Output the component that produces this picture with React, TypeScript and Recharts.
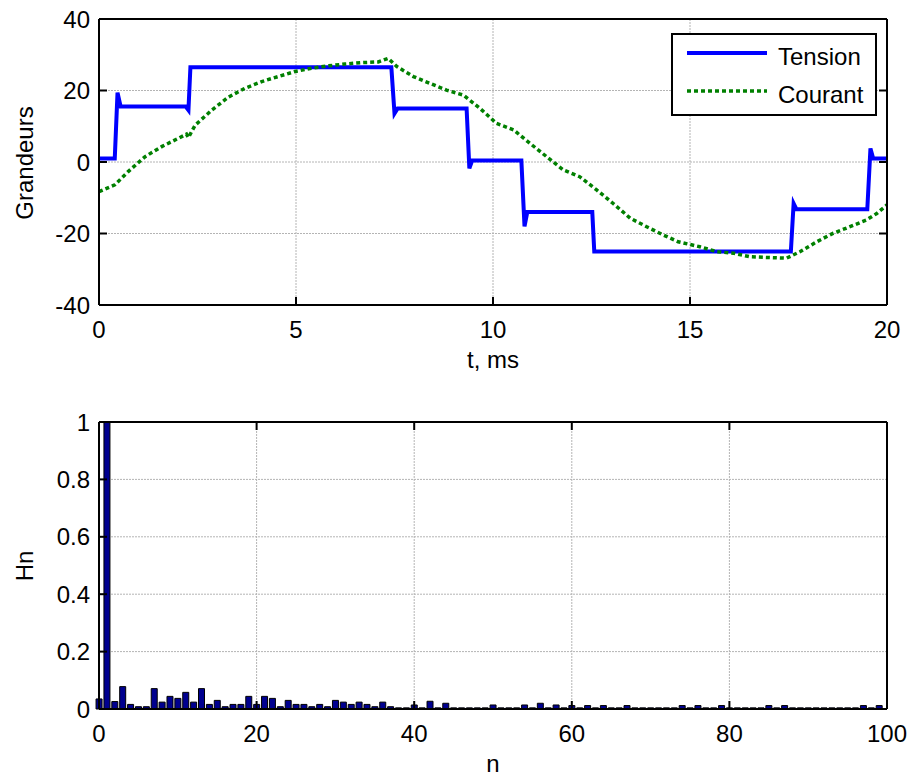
import React from "react";
import {
  Bar,
  BarChart,
  CartesianGrid,
  Legend,
  Line,
  LineChart,
  XAxis,
  YAxis,
} from "recharts";

// time axis (ms) and voltage steps
const tensionT = [0, 0.4, 0.47, 0.55, 2.2, 2.27, 2.32, 7.42, 7.5, 7.58, 9.33, 9.4, 9.47, 10.72, 10.8, 10.87, 12.52, 12.57, 17.56, 17.63, 17.7, 19.5, 19.58, 19.65, 20];
const tensionV = [1, 1, 19.4, 15.5, 15.5, 14.5, 26.5, 26.5, 13.6, 15, 15, -1.8, 0.4, 0.4, -18, -14, -14, -25, -25, -11.6, -13.2, -13.2, 3.8, 1, 1];

const courantT = [0, 0.4, 0.74, 1.17, 1.59, 2.01, 2.22, 2.27, 2.35, 2.44, 2.86, 3.28, 3.7, 4.13, 4.55, 4.97, 5.39, 5.82, 6.24, 6.67, 7.09, 7.34, 7.56, 7.98, 8.4, 8.82, 9.25, 9.67, 10.09, 10.52, 10.94, 11.36, 11.78, 12.2, 12.63, 13.05, 13.48, 13.9, 14.32, 14.7, 15.25, 15.68, 16.1, 16.52, 16.95, 17.45, 17.79, 18.22, 18.64, 19.06, 19.48, 19.74, 20];
const courantV = [-8.3, -6.4, -2.7, 1.5, 4.3, 6.6, 7.8, 6.8, 8.5, 10.3, 14.5, 18.1, 20.6, 22.5, 23.9, 25.3, 26.2, 26.9, 27.4, 27.8, 28.0, 29.0, 26.7, 23.9, 22.0, 20.1, 18.7, 15.0, 10.8, 9.0, 5.2, 1.5, -2.2, -4.1, -7.8, -11.6, -15.7, -18.1, -20.4, -22.3, -23.7, -25.1, -25.5, -26.5, -26.7, -26.9, -25.1, -22.3, -19.9, -18.1, -16.2, -14.4, -12.0];

// harmonic spectrum, n = 0..99
const hn = [
  0.035, 1.0, 0.026, 0.078, 0.016, 0.008, 0.008, 0.071, 0.024, 0.044,
  0.037, 0.058, 0.024, 0.071, 0.016, 0.03, 0.008, 0.016, 0.016, 0.044,
  0.016, 0.044, 0.037, 0.008, 0.03, 0.016, 0.016, 0.008, 0.016, 0.008,
  0.03, 0.024, 0.016, 0.024, 0.016, 0.008, 0.024, 0.008, 0.004, 0.004,
  0.014, 0.004, 0.027, 0.004, 0.02, 0.004, 0.004, 0.004, 0.004, 0.004,
  0.014, 0.004, 0.004, 0.004, 0.014, 0.004, 0.02, 0.004, 0.014, 0.004,
  0.012, 0.004, 0.012, 0.004, 0.012, 0.004, 0.004, 0.012, 0.004, 0.004,
  0.004, 0.004, 0.004, 0.004, 0.012, 0.004, 0.012, 0.004, 0.004, 0.012,
  0.004, 0.004, 0.004, 0.004, 0.004, 0.012, 0.004, 0.012, 0.004, 0.004,
  0.004, 0.004, 0.004, 0.004, 0.004, 0.004, 0.004, 0.012, 0.004, 0.012,
];

const seriesNames = ["Tension", "Courant"];
const tTicks = [0, 5, 10, 15, 20];
const gTicks = [-40, -20, 0, 20, 40];
const nTicks = [0, 20, 40, 60, 80, 100];
const hTicks = [0, 0.2, 0.4, 0.6, 0.8, 1];

const tensionData = tensionT.map((t, i) => ({ t, v: tensionV[i] }));
const courantData = courantT.map((t, i) => ({ t, v: courantV[i] }));
const hnData = hn.map((h, n) => ({ n, h }));

const FONT = "'Liberation Sans', Arial, sans-serif";
const TICK = 8;

const BottomTick = (props: any) => {
  const { x, y, payload } = props;
  return (
    <g>
      <line x1={x} y1={y} x2={x} y2={y - TICK} stroke="#000" strokeWidth={2} />
      <text x={x} y={y + 33} textAnchor="middle" fontSize={24} fontFamily={FONT} fill="#000">
        {payload.value}
      </text>
    </g>
  );
};

const TopTick = (props: any) => {
  const { x, y } = props;
  return <line x1={x} y1={y} x2={x} y2={y + TICK} stroke="#000" strokeWidth={2} />;
};

const LeftTick = (props: any) => {
  const { x, y, payload } = props;
  return (
    <g>
      <line x1={x} y1={y} x2={x + TICK} y2={y} stroke="#000" strokeWidth={2} />
      <text x={x - 9} y={y + 8.5} textAnchor="end" fontSize={24} fontFamily={FONT} fill="#000">
        {payload.value}
      </text>
    </g>
  );
};

const RightTick = (props: any) => {
  const { x, y } = props;
  return <line x1={x} y1={y} x2={x - TICK} y2={y} stroke="#000" strokeWidth={2} />;
};

const renderLegend = (props: any) => {
  const payload = props.payload || [];
  const items = seriesNames
    .map((name) => payload.find((p: any) => p.value === name))
    .filter(Boolean);
  return (
    <svg width={206} height={83} style={{ display: "block" }}>
      <rect x={1} y={1} width={204} height={81} fill="#fff" stroke="#000" strokeWidth={2} />
      {items.map((it: any, i: number) => (
        <g key={it.value}>
          <line
            x1={16}
            x2={96}
            y1={20 + i * 38}
            y2={20 + i * 38}
            stroke={it.color}
            strokeWidth={i === 0 ? 4 : 3.5}
            strokeDasharray={i === 0 ? undefined : "4 3"}
          />
          <text x={107} y={32 + i * 38} fontSize={24} fontFamily={FONT} fill="#000">
            {it.value}
          </text>
        </g>
      ))}
    </svg>
  );
};

const axisLine = { stroke: "#000", strokeWidth: 2 };

export default function App() {
  return (
    <div style={{ position: "absolute", left: 0, top: 0, width: 911, height: 780, background: "#fff", fontFamily: FONT }}>
      <div style={{ position: "absolute", left: 0, top: 0 }}>
        <LineChart width={911} height={390} margin={{ top: 18, right: 23, bottom: 55, left: 39 }}>
          <CartesianGrid stroke="#b4b4b4" strokeDasharray="2 1" />
          <XAxis dataKey="t" type="number" domain={[0, 20]} ticks={tTicks} interval={0} height={30}
            tickSize={0} tickMargin={0} tick={<BottomTick />} axisLine={axisLine} allowDuplicatedCategory={false} />
          <XAxis xAxisId="top" orientation="top" dataKey="t" type="number" domain={[0, 20]} ticks={tTicks} interval={0}
            height={1} tickSize={0} tickMargin={0} tick={<TopTick />} axisLine={axisLine} />
          <YAxis type="number" domain={[-40, 40]} ticks={gTicks} interval={0} width={60}
            tickSize={0} tickMargin={0} tick={<LeftTick />} axisLine={axisLine} allowDataOverflow />
          <YAxis yAxisId="right" orientation="right" type="number" domain={[-40, 40]} ticks={gTicks} interval={0} width={1}
            tickSize={0} tickMargin={0} tick={<RightTick />} axisLine={axisLine} allowDataOverflow />
          <Legend
            layout="horizontal"
            verticalAlign="middle"
            align="center"
            content={renderLegend}
            wrapperStyle={{ left: 671, top: 33, width: 206, height: 83 }}
          />
          <Line data={tensionData} dataKey="v" name={seriesNames[0]} type="linear" stroke="#0000ff" strokeWidth={4}
            dot={false} isAnimationActive={false} />
          <Line data={courantData} dataKey="v" name={seriesNames[1]} type="linear" stroke="#008000" strokeWidth={3.5}
            strokeDasharray="4 3" dot={false} isAnimationActive={false} />
        </LineChart>
      </div>
      <div style={{ position: "absolute", left: 0, top: 390 }}>
        <BarChart width={911} height={390} data={hnData} margin={{ top: 31, right: 23, bottom: 41, left: 39 }}>
          <CartesianGrid stroke="#b4b4b4" strokeDasharray="2 1" />
          <XAxis dataKey="n" type="number" domain={[0, 100]} ticks={nTicks} interval={0} height={30}
            tickSize={0} tickMargin={0} tick={<BottomTick />} axisLine={axisLine} />
          <XAxis xAxisId="top" orientation="top" dataKey="n" type="number" domain={[0, 100]} ticks={nTicks} interval={0}
            height={1} tickSize={0} tickMargin={0} tick={<TopTick />} axisLine={axisLine} />
          <YAxis type="number" domain={[0, 1]} ticks={hTicks} interval={0} width={60}
            tickSize={0} tickMargin={0} tick={<LeftTick />} axisLine={axisLine} />
          <YAxis yAxisId="right" orientation="right" type="number" domain={[0, 1]} ticks={hTicks} interval={0} width={1}
            tickSize={0} tickMargin={0} tick={<RightTick />} axisLine={axisLine} />
          <Bar dataKey="h" fill="#00008f" stroke="#000" strokeWidth={1} barSize={6} isAnimationActive={false} />
        </BarChart>
      </div>
      <svg width={911} height={780} style={{ position: "absolute", left: 0, top: 0, pointerEvents: "none" }}>
        <text transform="translate(33,163) rotate(-90)" textAnchor="middle" fontSize={24} fontFamily={FONT} fill="#000">
          Grandeurs
        </text>
        <text x={493} y={368} textAnchor="middle" fontSize={24} fontFamily={FONT} fill="#000">
          t, ms
        </text>
        <text transform="translate(33,566) rotate(-90)" textAnchor="middle" fontSize={24} fontFamily={FONT} fill="#000">
          Hn
        </text>
        <text x={493} y={772} textAnchor="middle" fontSize={24} fontFamily={FONT} fill="#000">
          n
        </text>
      </svg>
    </div>
  );
}
